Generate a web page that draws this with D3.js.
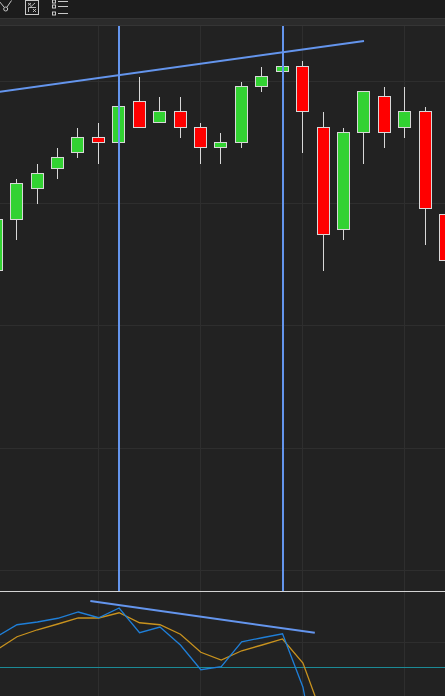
<!DOCTYPE html>
<html>
<head>
<meta charset="utf-8">
<style>html,body{margin:0;padding:0;background:#222;overflow:hidden}svg{display:block}</style>
<script src="https://cdn.jsdelivr.net/npm/d3@7"></script>
</head>
<body>
<svg id="c" width="445" height="696"></svg>
<script>
// candle index starts at 0 for the bar cut by the left edge
const opens  = [73.03,78.07,81.17,83.17,84.73,86.27,85.77,89.87,87.77,88.87,87.27,85.27,85.77,91.37,92.87,93.37,87.27,77.07,86.77,90.37,87.27,88.87,78.6];
const closes = [78.1,81.67,82.67,84.27,86.27,85.77,89.37,87.27,88.87,87.27,85.27,85.77,91.37,92.37,93.37,88.87,76.57,86.77,90.87,86.77,88.87,79.17,73.97];
const highs  = [78.1,82.1,83.6,85.17,87.17,87.67,89.37,92.27,90.27,90.27,87.67,86.67,91.77,93.27,93.37,93.87,88.77,87.17,90.87,91.27,91.27,89.27,78.6];
const lows   = [73.03,76.0,79.63,82.13,84.23,83.63,85.77,87.27,87.77,86.23,83.63,83.63,85.23,90.83,92.87,84.73,72.93,76.03,83.63,85.23,86.23,75.53,73.97];
const priceTicks = [91.9,79.7,67.5,55.2,43.0];
const verticalGridIdx = [5,10,15,20];
const markerIdx = [6,14];
const blueLine   = [62.2,67.0,68.1,69.6,72.1,69.8,73.7,63.8,66.1,58.9,49.0,50.2,60.2,61.8,63.4,42.0,0];
const orangeLine = [56.9,62.2,65.0,67.3,69.7,69.7,71.8,67.8,67.0,63.2,56.0,52.9,56.6,58.9,61.3,51.7,29.3];
const oscTicks = [60];
const oscMid = 50;
const priceTrendIdx = [0,18.03];
const priceTrendVal = [90.77,95.9];
const oscTrendIdx = [4.63,15.62];
const oscTrendVal = [76.5,63.8];

const svg = d3.select("#c");
const W=445,H=696;
const C={bg:"#222222",toolbar:"#1c1c1c",strip:"#2b2b2b",stripEdge:"#353535",grid:"#2e2e2e",sep:"#d4d4d4",
  up:"#32d232",down:"#ff0000",outline:"#d8d8d8",trend:"#6495ed",blue:"#1f7fd8",orange:"#c8921e",mid:"#1c8a96",icon:"#c8c8c8"};
const paneTop=26, paneBot=591, oscBot=696;

const x = d3.scaleLinear().domain([0,22]).range([-4.235,445.115]);
const y = d3.scaleLinear().domain([100,43]).range([0,570]);
const yo = d3.scaleLinear().domain([80.3,50]).range([591.5,667.25]);

svg.append("rect").attr("width",W).attr("height",H).attr("fill",C.bg);

// toolbar
svg.append("rect").attr("width",W).attr("height",18).attr("fill",C.toolbar);
svg.append("rect").attr("y",18).attr("width",W).attr("height",7).attr("fill",C.strip);
svg.append("rect").attr("y",18).attr("width",W).attr("height",1).attr("fill",C.stripEdge);
svg.append("rect").attr("y",25).attr("width",W).attr("height",1).attr("fill",C.stripEdge);
const ic=svg.append("g").attr("fill","none").attr("stroke",C.icon).attr("stroke-width",1);
ic.append("path").attr("d","M-1,1L4,7M7,7L11.5,0.5");
ic.append("circle").attr("cx",5.7).attr("cy",9).attr("r",2);
ic.append("rect").attr("x",25.5).attr("y",0.5).attr("width",13).attr("height",14);
ic.append("path").attr("d","M28.5,12V7.5H36M30,7.5L35,3M28,3L31,5.5M31,3L28,5.5M33,9L36,12M36,9L33,12").attr("stroke-width",0.9);
[1.5,6.5,13.5].forEach(v=>{
  ic.append("rect").attr("x",52.5).attr("y",v-1.5).attr("width",3).attr("height",3);
  ic.append("line").attr("x1",58).attr("x2",68).attr("y1",v).attr("y2",v);
});

svg.append("clipPath").attr("id","main").append("rect").attr("x",0).attr("y",paneTop).attr("width",W).attr("height",paneBot-paneTop);
svg.append("clipPath").attr("id","osc").append("rect").attr("x",0).attr("y",paneBot).attr("width",W).attr("height",oscBot-paneBot);

const grid=svg.append("g").attr("stroke",C.grid).attr("stroke-width",1).attr("shape-rendering","crispEdges");
grid.selectAll(".v").data(verticalGridIdx).join("line")
  .attr("x1",d=>Math.round(x(d))+.5).attr("x2",d=>Math.round(x(d))+.5).attr("y1",paneTop).attr("y2",oscBot);
grid.selectAll(".h").data(priceTicks).join("line")
  .attr("x1",0).attr("x2",W).attr("y1",d=>y(d)).attr("y2",d=>y(d));
grid.selectAll(".o").data(oscTicks).join("line")
  .attr("x1",0).attr("x2",W).attr("y1",d=>yo(d)).attr("y2",d=>yo(d));

// candles
const bars=d3.range(opens.length);
const main=svg.append("g").attr("clip-path","url(#main)");
main.append("g").attr("stroke",C.outline).attr("stroke-width",1).selectAll("line").data(bars).join("line")
  .attr("shape-rendering","crispEdges")
  .attr("x1",i=>Math.round(x(i))+.5).attr("x2",i=>Math.round(x(i))+.5)
  .attr("y1",i=>y(highs[i])).attr("y2",i=>y(lows[i]));
main.append("g").selectAll("rect").data(bars).join("rect")
  .attr("shape-rendering","crispEdges")
  .attr("x",i=>Math.round(x(i))-5.5).attr("width",12)
  .attr("y",i=>Math.round(y(Math.max(opens[i],closes[i])))+.5)
  .attr("height",i=>Math.round(Math.abs(opens[i]-closes[i])*10))
  .attr("fill",i=>closes[i]>=opens[i]?C.up:C.down)
  .attr("stroke",C.outline).attr("stroke-width",1);
const tr=d3.line().x(d=>x(d[0])).y(d=>y(d[1]));
main.append("path").attr("d",tr(d3.zip(priceTrendIdx,priceTrendVal)))
  .attr("fill","none").attr("stroke",C.trend).attr("stroke-width",2);
main.selectAll(".mk").data(markerIdx).join("line")
  .attr("shape-rendering","crispEdges")
  .attr("x1",d=>Math.round(x(d))+1).attr("x2",d=>Math.round(x(d))+1).attr("y1",paneTop).attr("y2",paneBot)
  .attr("stroke",C.trend).attr("stroke-width",2);

// oscillator pane
const osc=svg.append("g").attr("clip-path","url(#osc)");
osc.append("line").attr("x1",0).attr("x2",W).attr("y1",yo(oscMid)).attr("y2",yo(oscMid))
  .attr("stroke",C.mid).attr("stroke-width",1).attr("shape-rendering","crispEdges");
const ln=d3.line().x((d,i)=>x(i+0.04)).y(d=>yo(d));
osc.append("path").attr("d",ln(orangeLine)).attr("fill","none").attr("stroke",C.orange).attr("stroke-width",1.3);
osc.append("path").attr("d",ln(blueLine)).attr("fill","none").attr("stroke",C.blue).attr("stroke-width",1.3);
const tro=d3.line().x(d=>x(d[0])).y(d=>yo(d[1]));
osc.append("path").attr("d",tro(d3.zip(oscTrendIdx,oscTrendVal)))
  .attr("fill","none").attr("stroke",C.trend).attr("stroke-width",2);

svg.append("line").attr("x1",0).attr("x2",W).attr("y1",591.5).attr("y2",591.5).attr("stroke",C.sep).attr("stroke-width",1);
</script>
</body>
</html>
